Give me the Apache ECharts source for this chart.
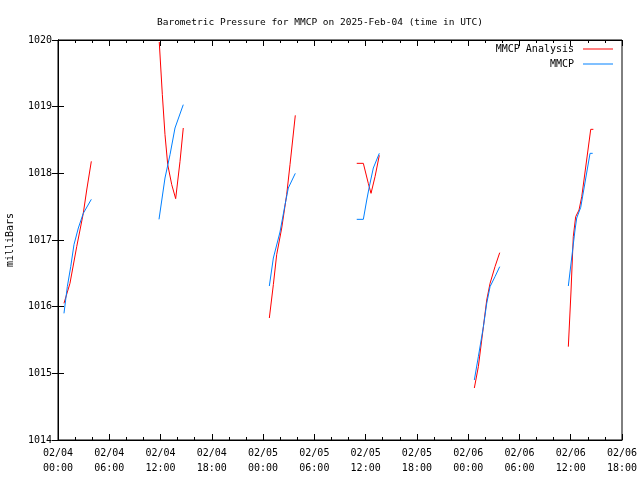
<!DOCTYPE html>
<html><head><meta charset="utf-8">
<script src="https://cdn.jsdelivr.net/npm/echarts@6/dist/echarts.min.js"></script>
<style>html,body{margin:0;padding:0;background:#fff}#c{width:640px;height:480px}</style>
</head><body><div id="c"></div>
<script>
// Hours since 2025-02-04 00:00 UTC; null separates observation blocks
const analysisHours = [0.70,1.40,2.19,2.96,3.36,3.90, null,
  11.85,12.21,12.52,12.84,13.31,13.77,14.28,14.66, null,
  24.73,25.20,25.59,26.18,26.76,27.15,27.77, null,
  34.96,35.73,36.31,36.63,37.10,37.60, null,
  48.72,49.19,49.78,50.17,50.56,51.14,51.69, null,
  59.72,60.03,60.30,60.58,60.97,61.29,62.34,62.65];
const analysisValues = [1016.05,1016.35,1016.9,1017.4,1017.75,1018.18, null,
  1019.97,1019.18,1018.58,1018.13,1017.83,1017.62,1018.18,1018.68, null,
  1015.83,1016.33,1016.78,1017.18,1017.68,1018.13,1018.87, null,
  1018.15,1018.15,1017.85,1017.7,1017.95,1018.27, null,
  1014.78,1015.1,1015.7,1016.1,1016.35,1016.6,1016.81, null,
  1015.4,1016.22,1017.05,1017.35,1017.45,1017.65,1018.66,1018.66];
const obsHours = [0.70,1.09,1.49,1.87,2.38,2.96,3.90, null,
  11.82,12.52,13.11,13.69,14.66, null,
  24.73,25.20,25.98,26.57,26.95,27.77, null,
  34.96,35.73,36.13,36.43,36.90,37.60, null,
  48.72,49.19,49.78,50.17,50.56,51.14,51.69, null,
  59.72,60.50,60.70,61.17,62.26,62.57];
const obsValues = [1015.9,1016.3,1016.6,1016.93,1017.18,1017.4,1017.61, null,
  1017.31,1017.93,1018.28,1018.68,1019.03, null,
  1016.31,1016.73,1017.12,1017.53,1017.78,1018.0, null,
  1017.31,1017.31,1017.6,1017.8,1018.08,1018.3, null,
  1014.9,1015.25,1015.7,1016.05,1016.3,1016.45,1016.6, null,
  1016.31,1017.15,1017.33,1017.49,1018.3,1018.3];
const xTickLabels = ['02/04\n00:00','02/04\n06:00','02/04\n12:00','02/04\n18:00',
  '02/05\n00:00','02/05\n06:00','02/05\n12:00','02/05\n18:00',
  '02/06\n00:00','02/06\n06:00','02/06\n12:00','02/06\n18:00'];
const seriesNames = ['MMCP Analysis','MMCP'];

function pairs(h, v){ return h.map((t,i)=> t===null ? [null,null] : [t, v[i]]); }
const FONT = 'DejaVu Sans Mono';
const chart = echarts.init(document.getElementById('c'), null, {renderer:'canvas'});
const baseX = {type:'value', min:0, max:66, interval:6,
  axisLine:{show:true, lineStyle:{color:'#000', width:1}},
  axisTick:{show:true, inside:true, length:6, lineStyle:{color:'#000'}},
  minorTick:{show:true, splitNumber:3, length:3, lineStyle:{color:'#000'}},
  splitLine:{show:false}};
const baseY = {type:'value', min:1014, max:1020, interval:1,
  axisLine:{show:true, lineStyle:{color:'#000', width:1}},
  axisTick:{show:true, inside:true, length:6, lineStyle:{color:'#000'}},
  splitLine:{show:false}};
chart.setOption({
  animation:false,
  backgroundColor:'#fff',
  title:{text:'Barometric Pressure for MMCP on 2025-Feb-04 (time in UTC)', left:'center', top:13,
    textStyle:{fontFamily:FONT, fontSize:9.5, fontWeight:'normal', color:'#000'}},
  grid:{left:58, right:18, top:40, bottom:40, containLabel:false, outerBoundsMode:'none',
    show:true, borderColor:'#000', borderWidth:1},
  legend:{orient:'vertical', right:22, top:38, align:'right', itemGap:3,
    icon:'rect', itemWidth:30, itemHeight:1,
    textStyle:{fontFamily:FONT, fontSize:10, color:'#000', lineHeight:12, padding:[0,4,0,0]},
    data:seriesNames},
  xAxis:[Object.assign({}, baseX, {position:'bottom',
      axisLabel:{fontFamily:FONT, fontSize:10, color:'#000', lineHeight:15, margin:6,
        formatter:(v)=> xTickLabels[Math.round(v/6)]}}),
    Object.assign({}, baseX, {position:'top', axisLabel:{show:false}})],
  yAxis:[Object.assign({}, baseY, {position:'left', name:'milliBars', nameLocation:'middle', nameGap:43,
      nameTextStyle:{fontFamily:FONT, fontSize:10, color:'#000'},
      axisLabel:{fontFamily:FONT, fontSize:10, color:'#000', margin:6, formatter:(v)=> String(v)}}),
    Object.assign({}, baseY, {position:'right', axisLabel:{show:false}})],
  series:[
    {name:seriesNames[0], type:'line', data:pairs(analysisHours, analysisValues), showSymbol:false,
      connectNulls:false, lineStyle:{color:'#ff0000', width:1}, itemStyle:{color:'#ff0000'}},
    {name:seriesNames[1], type:'line', data:pairs(obsHours, obsValues), showSymbol:false,
      connectNulls:false, lineStyle:{color:'#0080ff', width:1}, itemStyle:{color:'#0080ff'}}
  ]
});
</script></body></html>
